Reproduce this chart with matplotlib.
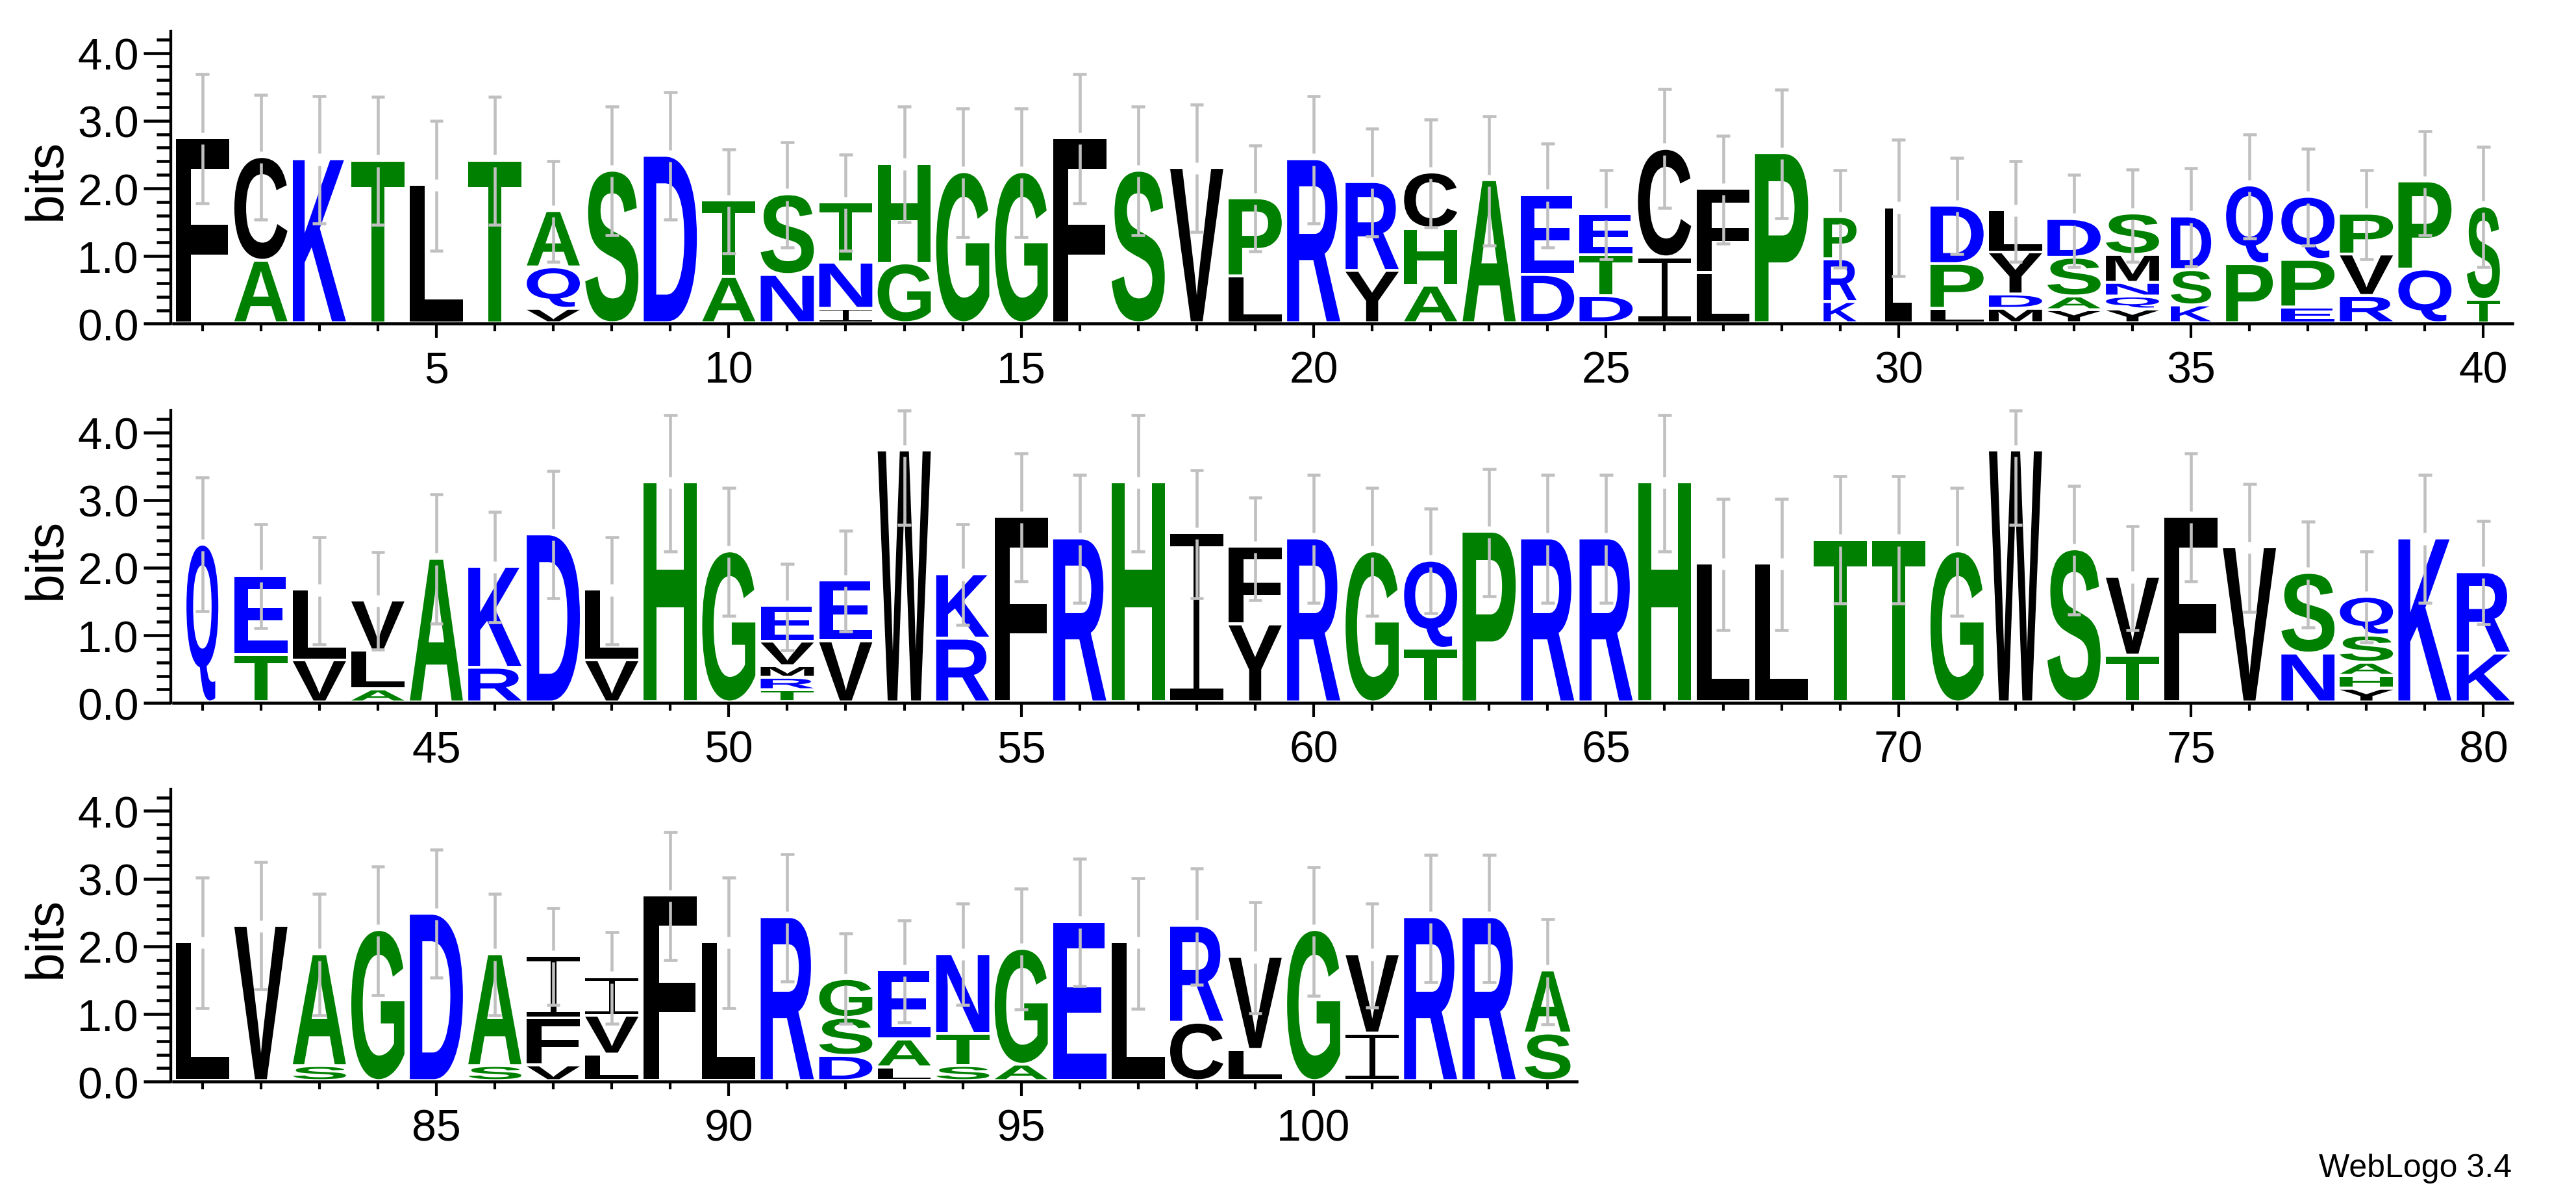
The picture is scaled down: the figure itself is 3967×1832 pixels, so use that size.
import matplotlib
matplotlib.use("Agg")
import matplotlib.pyplot as plt
from matplotlib.font_manager import FontProperties
from matplotlib.patches import PathPatch
from matplotlib.path import Path
from matplotlib.text import TextPath
from matplotlib.ticker import MultipleLocator
from matplotlib.transforms import Affine2D

plt.rcParams['font.family'] = ['Liberation Sans', 'DejaVu Sans']

# --- Sequence logo data: letters run bottom to top of each stack ---
row1_letters = ["F", "AC", "K", "T", "L", "T", "VQA", "S", "D", "AT", "NS", "INT", "GH", "G", "G", "F", "S", "V", "LP", "R",
                "YR", "AHC", "A", "DE", "DTE", "IC", "LF", "P", "KRP", "L", "LPD", "MDYL", "YASD", "YQNMS", "KSD", "PQ", "EPQ", "RVP", "QP", "TS"]
row1_heights = [[2.69], [0.88, 1.49], [2.38], [2.36], [2.00], [2.36], [0.17, 0.57, 0.79], [2.21], [2.43], [0.64, 1.09],
                [0.67, 1.15], [0.17, 0.64, 0.85], [0.84, 1.43], [2.19], [2.19], [2.69], [2.21], [2.25], [0.65, 1.11], [2.38],
                [0.73, 1.27], [0.51, 0.80, 0.79], [2.07], [0.67, 1.14], [0.36, 0.56, 0.57], [0.93, 1.56], [0.70, 1.20], [2.47], [0.27, 0.59, 0.58], [1.67],
                [0.17, 0.62, 0.82], [0.17, 0.17, 0.58, 0.58], [0.15, 0.16, 0.53, 0.53], [0.16, 0.15, 0.16, 0.37, 0.57], [0.22, 0.48, 0.75], [0.83, 1.12], [0.19, 0.66, 0.89], [0.36, 0.57, 0.56], [0.75, 1.26], [0.30, 1.34]]
row1_err_low = [1.78, 1.54, 1.48, 1.46, 1.08, 1.46, 0.92, 1.31, 1.54, 1.04, 1.13, 1.08, 1.50, 1.28, 1.28, 1.78, 1.31, 1.36, 1.07, 1.48,
                1.29, 1.42, 1.16, 1.13, 0.95, 1.71, 1.18, 1.56, 0.83, 0.70, 1.03, 0.92, 0.84, 0.92, 0.85, 1.26, 1.16, 0.95, 1.31, 0.84]
row1_err_high = [3.69, 3.38, 3.36, 3.35, 3.00, 3.35, 2.40, 3.21, 3.42, 2.58, 2.68, 2.50, 3.21, 3.18, 3.18, 3.69, 3.21, 3.24, 2.63, 3.36,
                 2.88, 3.02, 3.07, 2.66, 2.27, 3.47, 2.78, 3.46, 2.27, 2.72, 2.45, 2.40, 2.20, 2.28, 2.30, 2.80, 2.59, 2.27, 2.84, 2.61]

row2_letters = ["Q", "TE", "VL", "ALV", "A", "RK", "D", "VL", "H", "G", "TRMVE", "VE", "W", "RK", "F", "R", "H", "I", "YF", "R",
                "G", "TQ", "P", "R", "R", "H", "L", "L", "T", "T", "G", "W", "S", "TV", "F", "V", "NS", "YHASQ", "K", "KR"]
row2_heights = [[2.29], [0.66, 1.13], [0.58, 1.00], [0.15, 0.53, 0.70], [2.08], [0.47, 1.45], [2.44], [0.58, 1.00], [3.21], [2.19],
                [0.14, 0.14, 0.13, 0.32, 0.49], [0.86, 0.86], [3.68], [0.90, 0.91], [2.70], [2.38], [3.21], [2.46], [1.11, 1.11], [2.38],
                [2.19], [0.75, 1.26], [2.48], [2.38], [2.38], [3.21], [2.01], [2.01], [2.36], [2.36],
                [2.19], [3.68], [2.22], [0.65, 1.12], [2.70], [2.25], [0.68, 1.15], [0.16, 0.15, 0.15, 0.36, 0.53], [2.38], [0.68, 1.16]]
row2_err_low = [1.36, 1.11, 0.87, 0.79, 1.17, 1.19, 1.55, 0.87, 2.24, 1.29, 0.78, 1.06, 2.63, 1.15, 1.80, 1.48, 2.24, 1.55, 1.52, 1.48,
                1.29, 1.33, 1.58, 1.48, 1.48, 2.24, 1.08, 1.08, 1.47, 1.47, 1.29, 2.63, 1.31, 1.08, 1.80, 1.35, 1.12, 0.90, 1.48, 1.16]
row2_err_high = [3.33, 2.64, 2.45, 2.23, 3.08, 2.82, 3.43, 2.45, 4.25, 3.18, 2.06, 2.55, 4.32, 2.64, 3.69, 3.37, 4.25, 3.44, 3.04, 3.37,
                 3.18, 2.87, 3.46, 3.37, 3.37, 4.25, 3.02, 3.02, 3.35, 3.35, 3.18, 4.32, 3.21, 2.61, 3.69, 3.24, 2.68, 2.24, 3.37, 2.69]

row3_letters = ["L", "V", "SA", "G", "D", "SA", "VFI", "LVI", "F", "L", "R", "DSG", "LAE", "STN", "AG", "E", "L", "CR", "LV", "G",
                "IV", "R", "R", "SA"]
row3_heights = [[2.01], [2.25], [0.18, 1.61], [2.19], [2.43], [0.18, 1.61], [0.19, 0.65, 0.88], [0.35, 0.53, 0.53], [2.70], [2.01],
                [2.38], [0.33, 0.52, 0.53], [0.16, 0.37, 0.98], [0.18, 0.43, 1.14], [0.20, 1.67], [2.31], [2.01], [0.82, 1.39], [0.42, 1.33], [2.19],
                [0.66, 1.13], [2.38], [2.38], [0.66, 0.89]]
row3_err_low = [1.09, 1.36, 0.98, 1.28, 1.54, 0.98, 1.13, 0.86, 1.80, 1.09, 1.48, 0.86, 0.88, 1.13, 1.07, 1.41, 1.08, 1.43, 1.01, 1.27,
                1.10, 1.47, 1.47, 0.85]
row3_err_high = [3.02, 3.25, 2.78, 3.18, 3.43, 2.78, 2.56, 2.21, 3.69, 3.02, 3.36, 2.19, 2.38, 2.63, 2.85, 3.29, 3.01, 3.15, 2.65, 3.17,
                 2.63, 3.35, 3.35, 2.40]

row_starts = [1, 41, 81]
y_ticks = [0, 1, 2, 3, 4]
y_tick_labels = ["0.0", "1.0", "2.0", "3.0", "4.0"]

# columns narrower than the full letter width
narrow_columns = {29: 0.62, 30: 0.50, 35: 0.76, 36: 0.88, 40: 0.62, 41: 0.60, 104: 0.86}

blue_letters = "RKDENQ"
green_letters = "ASTGHP"

# --- Layout in pixels ---
W, H = 3967, 1833
px_per_pos = 90.07
px_per_bit = 104.2
spine_x = 262.6
first_x = 311.7
row_bottoms = [499.4, 1083.3, 1666.2]
y_top = 4.32

letter_width = 0.908
base_pad = 0.037
stack_gap = 0.042
err_gap = 0.088

bold_font = FontProperties(family="Liberation Sans", weight="bold")

# the logo's I has bars and a thin stem, no installed bold font has that shape
bar = 0.073
stem = 0.055
i_glyph = Path.make_compound_path(
    Path.unit_rectangle().transformed(Affine2D().scale(1, bar)),
    Path.unit_rectangle().transformed(Affine2D().scale(2 * stem, 1).translate(0.5 - stem, 0)),
    Path.unit_rectangle().transformed(Affine2D().scale(1, bar).translate(0, 1 - bar)),
)


def letter_color(ch):
    if ch in blue_letters:
        return "#0000ff"
    if ch in green_letters:
        return "#008000"
    return "black"


def draw_letter(ax, ch, xc, base, width, height):
    path = i_glyph if ch == "I" else TextPath((0, 0), ch, size=1, prop=bold_font)
    box = path.get_extents()
    tr = (Affine2D().translate(-box.x0, -box.y0)
          .scale(width / box.width, height / box.height)
          .translate(xc - width / 2, base))
    ax.add_patch(PathPatch(path, transform=tr + ax.transData, fc=letter_color(ch), lw=0))


def draw_row(ax, start, letters, heights, err_low, err_high):
    n = len(letters)
    for i in range(n):
        pos = start + i
        w = letter_width * narrow_columns.get(pos, 1.0)
        y = base_pad
        for ch, h in zip(letters[i], heights[i]):
            draw_letter(ax, ch, pos, y, w, h)
            top = y + h
            y = top + stack_gap
        # error bar with a break at the top of the stack
        top += 0.01
        ax.plot([pos, pos], [top + err_gap, err_high[i]], color="#c0c0c0", lw=3.3, solid_capstyle="butt", clip_on=False, zorder=4)
        ax.plot([pos, pos], [err_low[i], top - err_gap], color="#c0c0c0", lw=3.3, solid_capstyle="butt", clip_on=False, zorder=4)
        for v in (err_low[i], err_high[i]):
            ax.plot([pos - 0.115, pos + 0.115], [v, v], color="#c0c0c0", lw=3.3, solid_capstyle="butt", clip_on=False, zorder=4)

    ax.set_ylim(0, y_top)
    ax.set_xlim(start - (first_x - spine_x) / px_per_pos, start + n - 0.5)
    ax.spines["top"].set_visible(False)
    ax.spines["right"].set_visible(False)
    ax.spines["left"].set_linewidth(3.1)
    ax.spines["bottom"].set_linewidth(3.3)
    ax.spines["bottom"].set_bounds(start - 0.5, start + n - 0.5)
    ax.spines["left"].set_bounds(0, y_top)

    major = [p for p in range(start, start + n) if p % 5 == 0]
    minor = [p for p in range(start, start + n) if p % 5 != 0]
    ax.set_xticks(major)
    ax.set_xticklabels([str(p) for p in major])
    ax.set_xticks(minor, minor=True)
    ax.set_yticks(y_ticks)
    ax.set_yticklabels(y_tick_labels)
    ax.yaxis.set_minor_locator(MultipleLocator(0.2))
    ax.tick_params(axis="x", which="major", length=15.7, width=3, pad=13.5, labelsize=49)
    ax.tick_params(axis="x", which="minor", length=8.3, width=3)
    ax.tick_params(axis="y", which="major", length=30, width=3.3, pad=5, labelsize=49)
    ax.tick_params(axis="y", which="minor", length=15.5, width=3.3)
    ax.set_ylabel("bits", fontsize=58)
    ax.yaxis.set_label_coords((110 - spine_x) / (ax.get_position().width * W), 0.495)


# --- Plot ---
fig = plt.figure(figsize=(W / 100, H / 100), dpi=100)

rows = [
    (row1_letters, row1_heights, row1_err_low, row1_err_high),
    (row2_letters, row2_heights, row2_err_low, row2_err_high),
    (row3_letters, row3_heights, row3_err_low, row3_err_high),
]
for start, bottom, data in zip(row_starts, row_bottoms, rows):
    n = len(data[0])
    right_px = first_x + (n - 0.5) * px_per_pos
    ax = fig.add_axes([spine_x / W, 1 - bottom / H, (right_px - spine_x) / W, y_top * px_per_bit / H])
    ax.patch.set_alpha(0)
    draw_row(ax, start, *data)

fig.text(3868 / W, 1 - 1799 / H, "WebLogo 3.4", fontsize=36, ha="right", va="center")

fig.savefig("out.png", dpi=100)
